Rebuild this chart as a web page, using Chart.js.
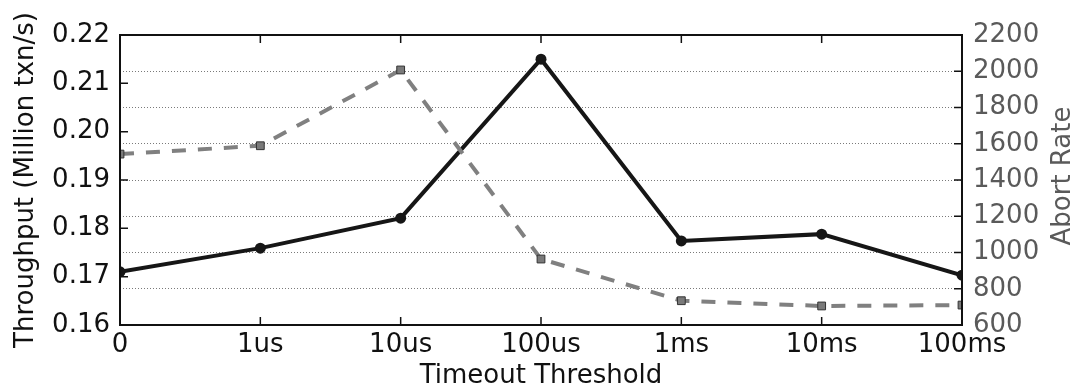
<!DOCTYPE html>
<html>
<head>
<meta charset="utf-8">
<script src="https://cdn.jsdelivr.net/npm/chart.js@4.4.1/dist/chart.umd.min.js"></script>
<style>
  html, body { margin: 0; padding: 0; background: #fff; }
  #wrap { width: 1076px; height: 392px; }
</style>
</head>
<body>
<div id="wrap"><canvas id="timeoutChart" width="1076" height="392"></canvas></div>
<script>
// timeout thresholds on the x axis
const thresholds = ['0', '1us', '10us', '100us', '1ms', '10ms', '100ms'];
// throughput, million txn/s (left axis)
const throughput = [0.1710, 0.1759, 0.1821, 0.2150, 0.1774, 0.1788, 0.1703];
// aborts (right axis)
const abortRate = [1543, 1589, 2007, 964, 734, 705, 710];
const leftTicks = [0.16, 0.17, 0.18, 0.19, 0.20, 0.21, 0.22];
const rightTicks = [600, 800, 1000, 1200, 1400, 1600, 1800, 2000, 2200];

const FONT = 'DejaVu Sans';
const GREY_TEXT = '#5a5a5a';

// box frame plus inward tick marks on all four sides
const frameTicks = {
  id: 'frameTicks',
  afterDatasetsDraw(chart) {
    const { ctx, chartArea: a, scales: { x, y, y2 } } = chart;
    const len = 8;
    ctx.save();
    ctx.strokeStyle = '#111';
    ctx.lineWidth = 1.5;
    ctx.beginPath();
    x.ticks.forEach((t, i) => {
      if (i === 0 || i === x.ticks.length - 1) return;
      const px = x.getPixelForTick(i);
      ctx.moveTo(px, a.bottom); ctx.lineTo(px, a.bottom - len);
      ctx.moveTo(px, a.top); ctx.lineTo(px, a.top + len);
    });
    y.ticks.forEach(t => {
      const py = y.getPixelForValue(t.value);
      ctx.moveTo(a.left, py); ctx.lineTo(a.left + len, py);
    });
    y2.ticks.forEach(t => {
      const py = y2.getPixelForValue(t.value);
      ctx.moveTo(a.right, py); ctx.lineTo(a.right - len, py);
    });
    ctx.stroke();
    ctx.lineWidth = 2;
    ctx.strokeRect(a.left, a.top, a.width, a.height);

    // right axis title, reading bottom to top like the left one
    ctx.translate(1063, (a.top + a.bottom) / 2 - 4);
    ctx.rotate(-Math.PI / 2);
    ctx.fillStyle = GREY_TEXT;
    ctx.font = '26px "' + FONT + '"';
    ctx.textAlign = 'center';
    ctx.textBaseline = 'middle';
    ctx.fillText('Abort Rate', 0, 0);
    ctx.restore();
  }
};

new Chart(document.getElementById('timeoutChart'), {
  type: 'line',
  data: {
    labels: thresholds,
    datasets: [
      {
        label: 'Throughput',
        data: throughput,
        yAxisID: 'y',
        order: 2,
        borderColor: '#161616',
        backgroundColor: '#161616',
        borderWidth: 4,
        tension: 0,
        pointStyle: 'circle',
        pointRadius: 5.5,
        pointBorderWidth: 0,
        clip: 0
      },
      {
        label: 'Abort Rate',
        data: abortRate,
        yAxisID: 'y2',
        order: 1,
        borderColor: '#808080',
        backgroundColor: '#7a7a7a',
        borderWidth: 4,
        borderDash: [14, 12],
        tension: 0,
        pointStyle: 'rect',
        pointRadius: 5.5,
        pointBorderColor: '#333',
        pointBorderWidth: 1,
        clip: 0
      }
    ]
  },
  options: {
    responsive: false,
    animation: false,
    layout: { padding: { top: 35, left: 0, right: 0, bottom: 0 } },
    plugins: { legend: { display: false }, tooltip: { enabled: false } },
    scales: {
      x: {
        offset: false,
        grid: { display: false, drawTicks: false },
        border: { display: false },
        ticks: { color: '#111', padding: 7, maxRotation: 0, autoSkip: false,
                 font: { family: FONT, size: 26, lineHeight: 1 } },
        title: { display: true, text: 'Timeout Threshold', color: '#111',
                 padding: { top: 0, bottom: 3 }, font: { family: FONT, size: 26, lineHeight: 1 } },
        afterFit: s => { s.height = 67; }
      },
      y: {
        position: 'left',
        min: 0.16, max: 0.22,
        afterBuildTicks: s => { s.ticks = leftTicks.map(v => ({ value: v })); },
        grid: { display: false, drawTicks: false },
        border: { display: false },
        ticks: { color: '#111', padding: 10, callback: v => v.toFixed(2),
                 font: { family: FONT, size: 26, lineHeight: 1 } },
        title: { display: true, text: 'Throughput (Million txn/s)', color: '#111',
                 padding: { top: 13, bottom: 0 }, font: { family: FONT, size: 26, lineHeight: 1 } },
        afterFit: s => { s.width = 120; }
      },
      y2: {
        position: 'right',
        min: 600, max: 2200,
        afterBuildTicks: s => { s.ticks = rightTicks.map(v => ({ value: v })); },
        grid: {
          drawTicks: false,
          lineWidth: 1,
          color: c => (c.tick && (c.tick.value === 600 || c.tick.value === 2200)) ? 'rgba(0,0,0,0)' : '#7a7a7a'
        },
        border: { display: false, dash: [1, 2] },
        ticks: { color: GREY_TEXT, padding: 11, callback: v => String(v),
                 font: { family: FONT, size: 26, lineHeight: 1 } },
        title: { display: false },
        afterFit: s => { s.width = 114; }
      }
    }
  },
  plugins: [frameTicks]
});
</script>
</body>
</html>
